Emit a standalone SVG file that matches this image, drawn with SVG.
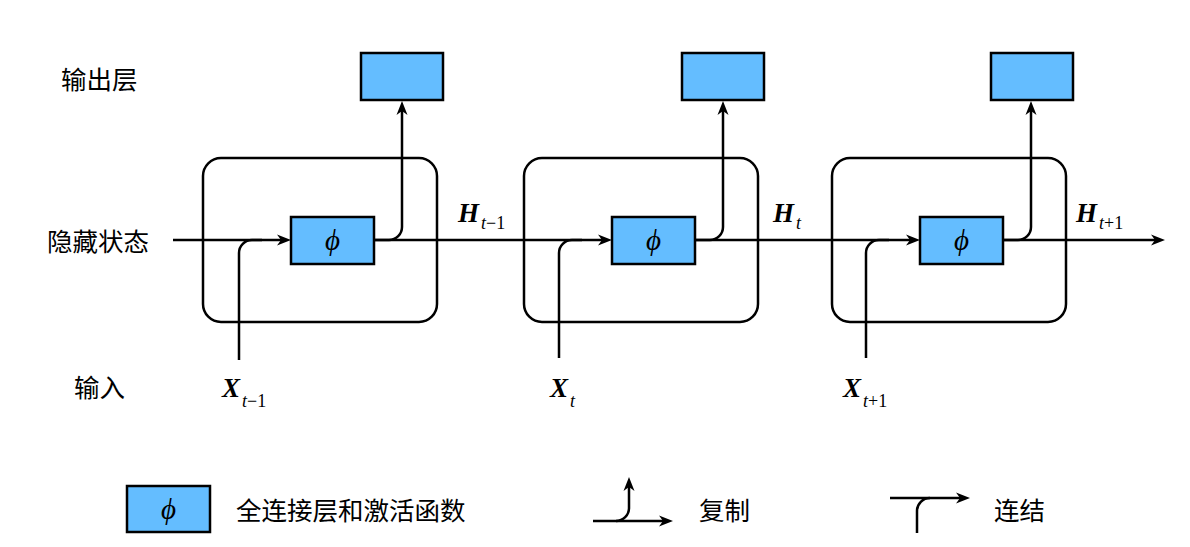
<svg xmlns="http://www.w3.org/2000/svg" width="1190" height="547" viewBox="0 0 1190 547">
<style>
.ln{fill:none;stroke:#000;stroke-width:2.5}
.cell{fill:none;stroke:#000;stroke-width:2.5}
.box{fill:#64bdff;stroke:#000;stroke-width:2.5}
.cjk{font-family:"Noto Sans CJK SC","Noto Sans",sans-serif;font-size:25.5px;fill:#000}
.phi{font-family:"Liberation Serif","DejaVu Serif",serif;font-style:italic;font-size:29px;text-anchor:middle}
.mv{font-family:"Liberation Serif","DejaVu Serif",serif;font-style:italic;font-weight:bold;font-size:27px}
.sub{font-family:"Liberation Serif","DejaVu Serif",serif;font-style:italic;font-weight:normal;font-size:18px}
.up{font-style:normal}
</style>
<defs>
<marker id="ah" markerUnits="userSpaceOnUse" markerWidth="14" markerHeight="12" viewBox="0 0 14 12" refX="7" refY="6" orient="auto">
<path d="M0,0.5 L14,6 L0,11.5 L4,6 z" fill="#000"/>
</marker>
</defs>
<g id="labels">
<text class="cjk" x="61" y="89">输出层</text>
<text class="cjk" x="47" y="251">隐藏状态</text>
<text class="cjk" x="74" y="397">输入</text>
</g>
<g id="cell1">
<rect class="cell" x="203" y="158" width="234" height="164" rx="18"/>
</g>
<g id="cell2">
<rect class="cell" x="524" y="158" width="234" height="164" rx="18"/>
</g>
<g id="cell3">
<rect class="cell" x="832" y="158" width="234" height="164" rx="18"/>
</g>
<g id="connectors">
<path class="ln" d="M173,240 H284" marker-end="url(#ah)"/>
<path class="ln" d="M374,240 H605" marker-end="url(#ah)"/>
<path class="ln" d="M695,240 H913" marker-end="url(#ah)"/>
<path class="ln" d="M1003,240 H1158" marker-end="url(#ah)"/>
<path class="ln" d="M239,360 V253 A13,13 0 0 1 252,240 H262"/>
<path class="ln" d="M559,358 V253 A13,13 0 0 1 572,240 H582"/>
<path class="ln" d="M866,358 V253 A13,13 0 0 1 879,240 H889"/>
<path class="ln" d="M374,240 H389 A13,13 0 0 0 402,227 V108" marker-end="url(#ah)"/>
<path class="ln" d="M695,240 H710 A13,13 0 0 0 723,227 V108" marker-end="url(#ah)"/>
<path class="ln" d="M1003,240 H1018 A13,13 0 0 0 1031,227 V108" marker-end="url(#ah)"/>
</g>
<g id="phi1"><rect class="box" x="291" y="217" width="83" height="47"/><text class="phi" x="332.5" y="250">ϕ</text></g>
<g id="phi2"><rect class="box" x="612" y="217" width="83" height="47"/><text class="phi" x="653.5" y="250">ϕ</text></g>
<g id="phi3"><rect class="box" x="920" y="217" width="83" height="47"/><text class="phi" x="961.5" y="250">ϕ</text></g>
<g id="out1"><rect class="box" x="361" y="53" width="82" height="47"/></g>
<g id="out2"><rect class="box" x="682" y="53" width="82" height="47"/></g>
<g id="out3"><rect class="box" x="991" y="53" width="82" height="47"/></g>
<g id="hlabels">
<text class="mv" x="458" y="222">H<tspan class="sub" dx="2" dy="7">t<tspan class="up">−1</tspan></tspan></text>
<text class="mv" x="773" y="222">H<tspan class="sub" dx="2" dy="7">t</tspan></text>
<text class="mv" x="1076" y="222">H<tspan class="sub" dx="2" dy="7">t<tspan class="up">+1</tspan></tspan></text>
<text class="mv" x="222" y="397">X<tspan class="sub" dx="2" dy="10">t<tspan class="up">−1</tspan></tspan></text>
<text class="mv" x="550" y="397">X<tspan class="sub" dx="2" dy="10">t</tspan></text>
<text class="mv" x="843" y="397">X<tspan class="sub" dx="2" dy="10">t<tspan class="up">+1</tspan></tspan></text>
</g>
<g id="legend-phi">
<rect class="box" x="127" y="486" width="83" height="46"/>
<text class="phi" x="168.5" y="519">ϕ</text>
<text class="cjk" x="236" y="520">全连接层和激活函数</text>
</g>
<g id="legend-copy">
<path class="ln" d="M593,521 H666" marker-end="url(#ah)"/>
<path class="ln" d="M616,521 A13,13 0 0 0 629,508 V484" marker-end="url(#ah)"/>
<text class="cjk" x="699" y="520">复制</text>
</g>
<g id="legend-concat">
<path class="ln" d="M890,498 H963" marker-end="url(#ah)"/>
<path class="ln" d="M917,533 V511 A13,13 0 0 1 930,498"/>
<text class="cjk" x="994" y="520">连结</text>
</g>
</svg>
